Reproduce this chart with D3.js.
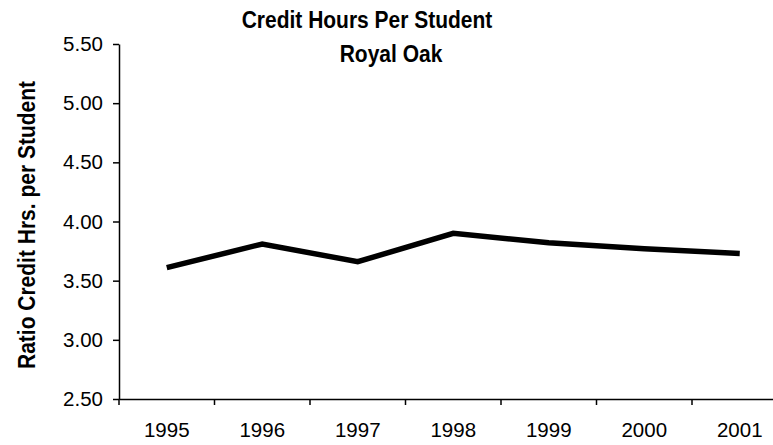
<!DOCTYPE html>
<html>
<head>
<meta charset="utf-8">
<script src="https://cdn.jsdelivr.net/npm/d3@7"></script>
<style>
  html, body { margin: 0; padding: 0; background: #fff; }
  svg { display: block; font-family: "Liberation Sans", Arial, sans-serif; }
</style>
</head>
<body>
<svg id="chart" width="773" height="445"></svg>
<script>
const years = ["1995", "1996", "1997", "1998", "1999", "2000", "2001"];
const ratios = [3.61, 3.81, 3.66, 3.90, 3.82, 3.77, 3.73];
const yTicks = [2.5, 3.0, 3.5, 4.0, 4.5, 5.0, 5.5];
const titleLines = ["Credit Hours Per Student", "Royal Oak"];
const yLabel = "Ratio Credit Hrs. per Student";

const svg = d3.select("#chart");
const plotLeft = 119, plotTop = 44, plotBottom = 399, bandW = 95.5;
const titleX = [367, 391];

const x = d3.scaleBand().domain(years).range([plotLeft, plotLeft + bandW * years.length]).padding(0);
const y = d3.scaleLinear().domain([2.5, 5.5]).range([plotBottom, plotTop]);

// Title
svg.append("g").selectAll("text").data(titleLines).join("text")
  .attr("transform", (d, i) => `translate(${titleX[i]},${28 + i * 34}) scale(1,1.15)`)
  .attr("text-anchor", "middle")
  .attr("font-size", 21)
  .attr("font-weight", "bold")
  .attr("fill", "#000")
  .text(d => d);

// Y axis label
svg.append("text")
  .attr("transform", `translate(35,225) rotate(-90) scale(1,1.12)`)
  .attr("text-anchor", "middle")
  .attr("font-size", 21)
  .attr("font-weight", "bold")
  .attr("fill", "#000")
  .text(yLabel);

// Y axis
const yAxis = svg.append("g")
  .attr("transform", `translate(${plotLeft},0)`)
  .call(d3.axisLeft(y).tickValues(yTicks).tickFormat(d3.format(".2f")).tickSize(6).tickPadding(10).tickSizeOuter(0));
yAxis.select(".domain").attr("stroke", "#000").attr("stroke-width", 1.5);
yAxis.selectAll(".tick line").attr("stroke", "#000").attr("stroke-width", 1.5);
yAxis.selectAll(".tick text").attr("font-size", 20.5).attr("fill", "#000")
  .attr("font-family", "Liberation Sans, Arial, sans-serif");

// X axis (labels at band centers)
const xAxis = svg.append("g")
  .attr("transform", `translate(0,${plotBottom})`)
  .call(d3.axisBottom(x).tickSize(0).tickPadding(23).tickSizeOuter(0));
xAxis.select(".domain").attr("stroke", "#000").attr("stroke-width", 1.5);
xAxis.selectAll(".tick text").attr("font-size", 20.5).attr("fill", "#000")
  .attr("font-family", "Liberation Sans, Arial, sans-serif");

// X boundary ticks
const bounds = years.map(d => x(d)).concat([x(years[years.length - 1]) + x.bandwidth()]);
svg.append("g").selectAll("line").data(bounds).join("line")
  .attr("x1", d => d).attr("x2", d => d)
  .attr("y1", plotBottom).attr("y2", plotBottom + 6)
  .attr("stroke", "#000").attr("stroke-width", 1.5);

// Line
const line = d3.line()
  .x((d, i) => x(years[i]) + x.bandwidth() / 2)
  .y(d => y(d));
svg.append("path")
  .datum(ratios)
  .attr("d", line)
  .attr("fill", "none")
  .attr("stroke", "#000")
  .attr("stroke-width", 5.5)
  .attr("stroke-linejoin", "miter");
</script>
</body>
</html>
